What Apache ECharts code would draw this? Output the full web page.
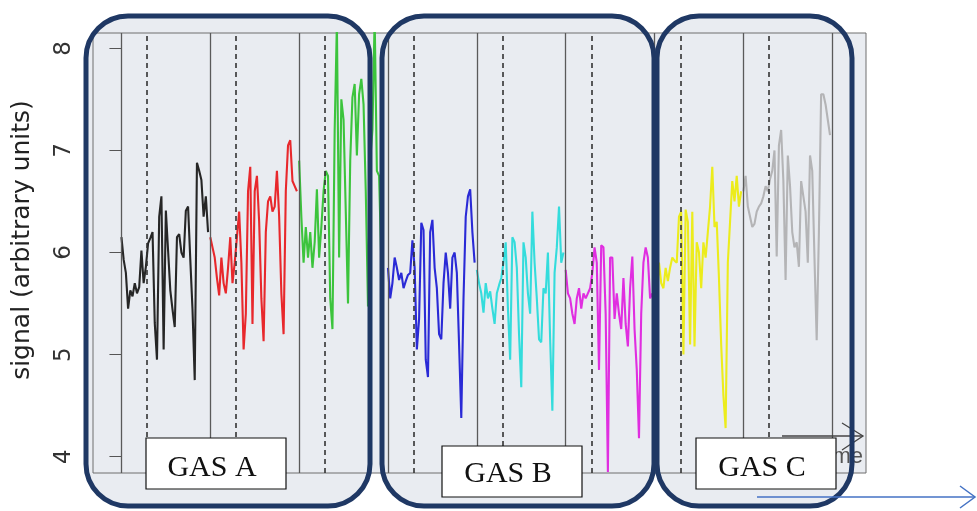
<!DOCTYPE html>
<html>
<head>
<meta charset="utf-8">
<script src="https://cdn.jsdelivr.net/npm/echarts@6/dist/echarts.min.js"></script>
<style>
html, body { margin: 0; padding: 0; background: #fff; }
#main { width: 977px; height: 511px; }
</style>
</head>
<body>
<div id="main"></div>
<script>
// signal readings, one array per exposure, sampled every 2.5 time units
var step = 2.5;
var segStarts = [0, 100, 200, 300, 400, 500, 600, 700];
var segNames = ['black', 'red', 'green', 'blue', 'cyan', 'magenta', 'yellow', 'gray'];
var segColors = ['#262626', '#e8282c', '#3cc43c', '#2a2ad6', '#34dcdc', '#e02ee0', '#ecec1c', '#b4b4b6'];

var blackVals = [6.15, 5.93, 5.80, 5.45, 5.63, 5.57, 5.70, 5.60, 5.66, 6.02, 5.70, 5.86, 6.09, 6.14, 6.20, 5.31, 4.95, 6.35, 6.55, 5.05,
    6.41, 6.02, 5.63, 5.44, 5.27, 6.15, 6.18, 6.00, 5.95, 6.41, 6.45, 5.93, 5.44, 4.75, 6.88, 6.80, 6.71, 6.35, 6.55, 6.20];
var redVals = [6.15, 6.05, 5.95, 5.75, 5.58, 5.95, 5.70, 5.60, 5.85, 6.15, 5.70, 5.90, 6.15, 6.40, 5.90, 5.05, 5.40, 6.60, 6.84, 5.30,
    6.60, 6.75, 6.30, 5.55, 5.13, 6.20, 6.50, 6.55, 6.40, 6.45, 6.80, 6.35, 5.60, 5.20, 6.60, 7.05, 7.10, 6.70, 6.65, 6.60];
var greenVals = [6.90, 6.35, 5.90, 6.25, 5.95, 6.20, 5.85, 6.10, 6.62, 5.95, 6.25, 6.60, 6.80, 6.75, 5.55, 5.25, 7.20, 8.25, 5.95, 7.50,
    7.30, 6.40, 5.50, 6.90, 7.52, 7.65, 6.95, 7.55, 7.70, 7.45, 6.60, 5.47, 6.90, 7.20, 8.30, 6.80, 6.75, 5.90];
var blueVals = [5.85, 5.55, 5.70, 5.95, 5.85, 5.73, 5.80, 5.65, 5.72, 5.78, 5.80, 6.12, 5.85, 5.05, 5.35, 6.29, 6.22, 4.95, 4.78, 6.20,
    6.32, 5.85, 5.65, 5.20, 5.15, 5.70, 6.00, 5.80, 5.45, 5.95, 6.00, 5.80, 5.10, 4.38, 5.55, 6.35, 6.55, 6.62, 6.20, 5.90];
var cyanVals = [5.83, 5.70, 5.60, 5.41, 5.70, 5.55, 5.62, 5.45, 5.30, 5.60, 5.68, 5.75, 5.90, 6.10, 5.45, 4.95, 6.15, 6.10, 5.85, 5.20,
    4.68, 6.10, 5.95, 5.60, 5.40, 6.40, 5.90, 5.55, 5.15, 5.12, 5.65, 5.60, 6.00, 5.15, 4.45, 5.80, 6.05, 6.45, 5.90, 6.00];
var magentaVals = [5.83, 5.60, 5.55, 5.40, 5.30, 5.55, 5.65, 5.45, 5.60, 5.55, 5.60, 5.65, 5.80, 6.05, 5.90, 4.85, 6.07, 6.05, 5.40, 3.85,
    5.95, 5.95, 5.35, 5.60, 5.40, 5.25, 5.75, 5.30, 5.08, 5.65, 5.96, 5.25, 4.85, 4.18, 5.40, 5.90, 6.05, 5.95, 5.55, 5.60];
var yellowVals = [5.93, 5.60, 5.90, 5.70, 5.65, 5.85, 5.72, 5.85, 5.95, 5.92, 5.90, 6.35, 6.40, 5.00, 6.42, 6.30, 5.10, 6.40, 5.08, 6.10,
    6.00, 5.65, 6.10, 5.95, 6.20, 6.45, 6.84, 6.25, 6.30, 5.75, 5.10, 4.60, 4.28, 5.90, 6.30, 6.70, 6.50, 6.75, 6.45, 6.60];
var grayVals = [6.60, 6.75, 6.45, 6.35, 6.25, 6.28, 6.40, 6.45, 6.48, 6.55, 6.65, 6.60, 6.72, 6.80, 7.00, 5.96, 7.05, 7.20, 6.70, 5.73,
    6.95, 6.65, 6.20, 6.05, 6.10, 5.86, 6.70, 6.55, 6.40, 5.90, 6.95, 6.80, 5.95, 5.14, 6.20, 7.55, 7.55, 7.45, 7.30, 7.15];

var segments = [blackVals, redVals, greenVals, blueVals, cyanVals, magentaVals, yellowVals, grayVals];

var yTicks = [4, 5, 6, 7, 8];
var solidLines = [0, 100, 200, 300, 400, 500, 600, 700, 800];
var dashedLines = [29, 129, 229, 329, 429, 529, 629, 729];

var gasLabels = ['GAS A', 'GAS B', 'GAS C'];

function toPairs(vals, start) {
    return vals.map(function (v, i) {
        return [start + i * step, v];
    });
}

var chart = echarts.init(document.getElementById('main'));

var series = segments.map(function (vals, k) {
    return {
        type: 'line',
        name: segNames[k],
        data: toPairs(vals, segStarts[k]),
        symbol: 'none',
        z: 3,
        lineStyle: { color: segColors[k], width: 2.1 },
        itemStyle: { color: segColors[k] }
    };
});

// vertical separators: solid at gas switch, dashed a little after
var vLines = solidLines.map(function (v) {
    return { xAxis: v, lineStyle: { color: '#5a5a5a', width: 1.3, type: 'solid' } };
}).concat(dashedLines.map(function (v) {
    return { xAxis: v, lineStyle: { color: '#333', width: 1.6, type: [5, 4] } };
}));

series.unshift({
    type: 'line',
    data: [],
    z: 2,
    silent: true,
    markLine: {
        symbol: 'none',
        silent: true,
        animation: false,
        label: { show: false },
        data: vLines
    }
});

// overlay frames (fill behind, outline on top)
var frames = [[86, 284], [382, 272], [657, 195]];
var boxes = [[146, 438, 140, 51, 212, 468], [442, 446, 140, 51, 508, 474], [696, 438, 140, 51, 762, 468]];

var graphics = [];
frames.forEach(function (f) {
    graphics.push({
        type: 'rect', z: -1, silent: true,
        shape: { x: f[0], y: 16, width: f[1], height: 490, r: 42 },
        style: { fill: '#e9ecf1' }
    });
    graphics.push({
        type: 'rect', z: 30, silent: true,
        shape: { x: f[0], y: 16, width: f[1], height: 490, r: 42 },
        style: { fill: 'none', stroke: '#1f3864', lineWidth: 5 }
    });
});

// "time" arrow inside the plot
graphics.push({
    type: 'polyline', z: 10, silent: true,
    shape: { points: [[782, 436], [863, 436]] },
    style: { stroke: '#444', lineWidth: 1.3 }
});
graphics.push({
    type: 'polyline', z: 10, silent: true,
    shape: { points: [[842, 423], [863, 436], [842, 450]] },
    style: { stroke: '#444', lineWidth: 1.3, fill: 'none' }
});
graphics.push({
    type: 'text', z: 10, silent: true, x: 863, y: 468,
    style: { text: 'time', fill: '#555', font: '22px "Liberation Sans"', align: 'right', verticalAlign: 'bottom' }
});

boxes.forEach(function (b, i) {
    graphics.push({
        type: 'rect', z: 20, silent: true,
        shape: { x: b[0], y: b[1], width: b[2], height: b[3] },
        style: { fill: '#fff', stroke: '#111', lineWidth: 1.2 }
    });
    graphics.push({
        type: 'text', z: 21, silent: true, x: b[4], y: b[5],
        style: { text: gasLabels[i], fill: '#111', font: '30px "Liberation Serif"', align: 'center', verticalAlign: 'middle' }
    });
});

// blue arrow at the bottom right
graphics.push({
    type: 'polyline', z: 40, silent: true,
    shape: { points: [[757, 497], [975, 497]] },
    style: { stroke: '#4472c4', lineWidth: 1.5 }
});
graphics.push({
    type: 'polyline', z: 40, silent: true,
    shape: { points: [[960, 486], [975, 497], [960, 508]] },
    style: { stroke: '#4472c4', lineWidth: 1.5, fill: 'none' }
});

var option = {
    animation: false,
    backgroundColor: '#fff',
    grid: {
        left: 93, top: 33, right: 111, bottom: 38,
        show: true,
        backgroundColor: '#e9ecf1',
        borderColor: '#6e6e6e',
        borderWidth: 1
    },
    xAxis: {
        type: 'value',
        min: -32,
        max: 838,
        axisLine: { show: false },
        axisTick: { show: false },
        axisLabel: { show: false },
        splitLine: { show: false }
    },
    yAxis: {
        type: 'value',
        min: 3.84,
        max: 8.15,
        name: 'signal (arbitrary units)',
        nameLocation: 'middle',
        nameGap: 58,
        nameTextStyle: {
            fontFamily: 'DejaVu Sans',
            fontSize: 25,
            color: '#222',
            padding: [0, 0, 0, 26]
        },
        axisLine: { show: false },
        axisTick: {
            show: true,
            length: 12,
            customValues: yTicks,
            lineStyle: { color: '#555', width: 1 }
        },
        axisLabel: {
            customValues: yTicks,
            rotate: 90,
            margin: 17,
            fontFamily: 'DejaVu Sans',
            fontSize: 23,
            color: '#333'
        },
        splitLine: { show: false }
    },
    graphic: { elements: graphics },
    series: series
};

chart.setOption(option);
</script>
</body>
</html>
